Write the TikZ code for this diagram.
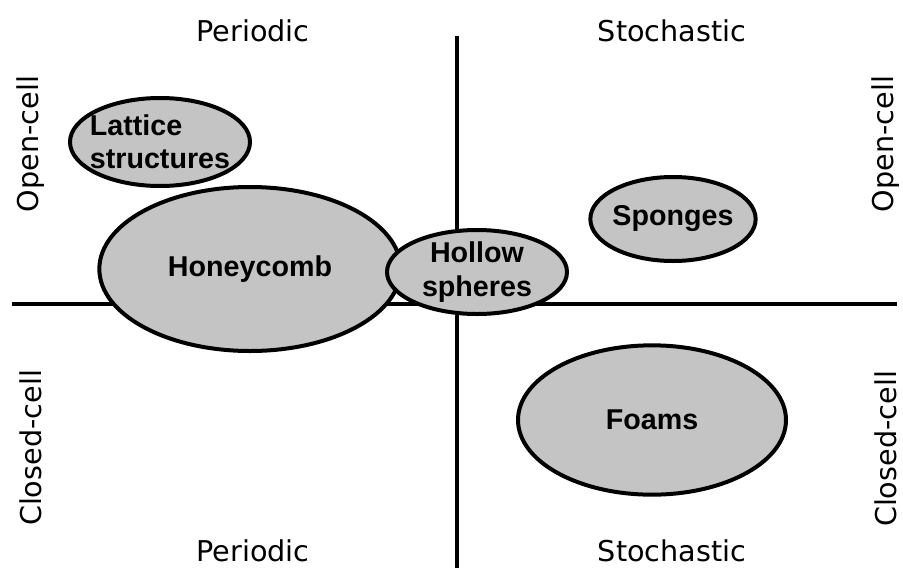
\documentclass[tikz,border=0pt]{standalone}
\usepackage{fontspec}
\usetikzlibrary{shapes.geometric}
\newfontfamily\axisfont{DejaVu Sans}
\newfontfamily\blobfont{Liberation Sans}
\definecolor{Ink}{HTML}{000000}
\definecolor{BlobFill}{HTML}{C4C4C4}

\begin{document}
\begin{tikzpicture}[x=0.75pt,y=-0.75pt,
  axislabel/.style={font=\axisfont\fontsize{21.5}{26}\selectfont,text=Ink,inner sep=0pt},
  blob/.style={ellipse,draw=Ink,fill=BlobFill,line width=3pt,inner sep=-8pt,
    font=\blobfont\bfseries\fontsize{21.5}{25}\selectfont,text=Ink},
  axis/.style={Ink,line width=3pt}]
\useasboundingbox (0,0) rectangle (903,568);
% axes
\coordinate (xl) at (12,304);
\coordinate (xr) at (897,304);
\coordinate (yt) at (457,36);
\coordinate (yb) at (457,568);
\draw[axis] (xl) -- (xr);
\draw[axis] (yt) -- (yb);
% axis labels
\node[axislabel] (pertop) at (253,31) {Periodic};
\node[axislabel] (stotop) at (672,31) {Stochastic};
\node[axislabel] (perbot) at (253,551) {Periodic};
\node[axislabel] (stobot) at (672,551) {Stochastic};
\node[axislabel,rotate=90] (openl) at (31,144) {Open-cell};
\node[axislabel,rotate=90] (openr) at (886,144) {Open-cell};
\node[axislabel,rotate=90] (closedl) at (31,448) {Closed-cell};
\node[axislabel,rotate=90] (closedr) at (886,449) {Closed-cell};
% classes (sizes in pt: 0.75 x pixel size)
\node[blob,minimum width=135pt,minimum height=66pt,align=left] (lattice) at (160,142) {Lattice\\structures};
\node[blob,minimum width=226pt,minimum height=123pt] (honey) at (250,269) {Honeycomb};
\node[blob,minimum width=135pt,minimum height=63pt,align=center] (hollow) at (477,272) {Hollow\\spheres};
\node[blob,minimum width=124pt,minimum height=63pt] (sponge) at (673,219) {Sponges};
\node[blob,minimum width=201pt,minimum height=112pt] (foam) at (652,420) {Foams};
\end{tikzpicture}
\end{document}
